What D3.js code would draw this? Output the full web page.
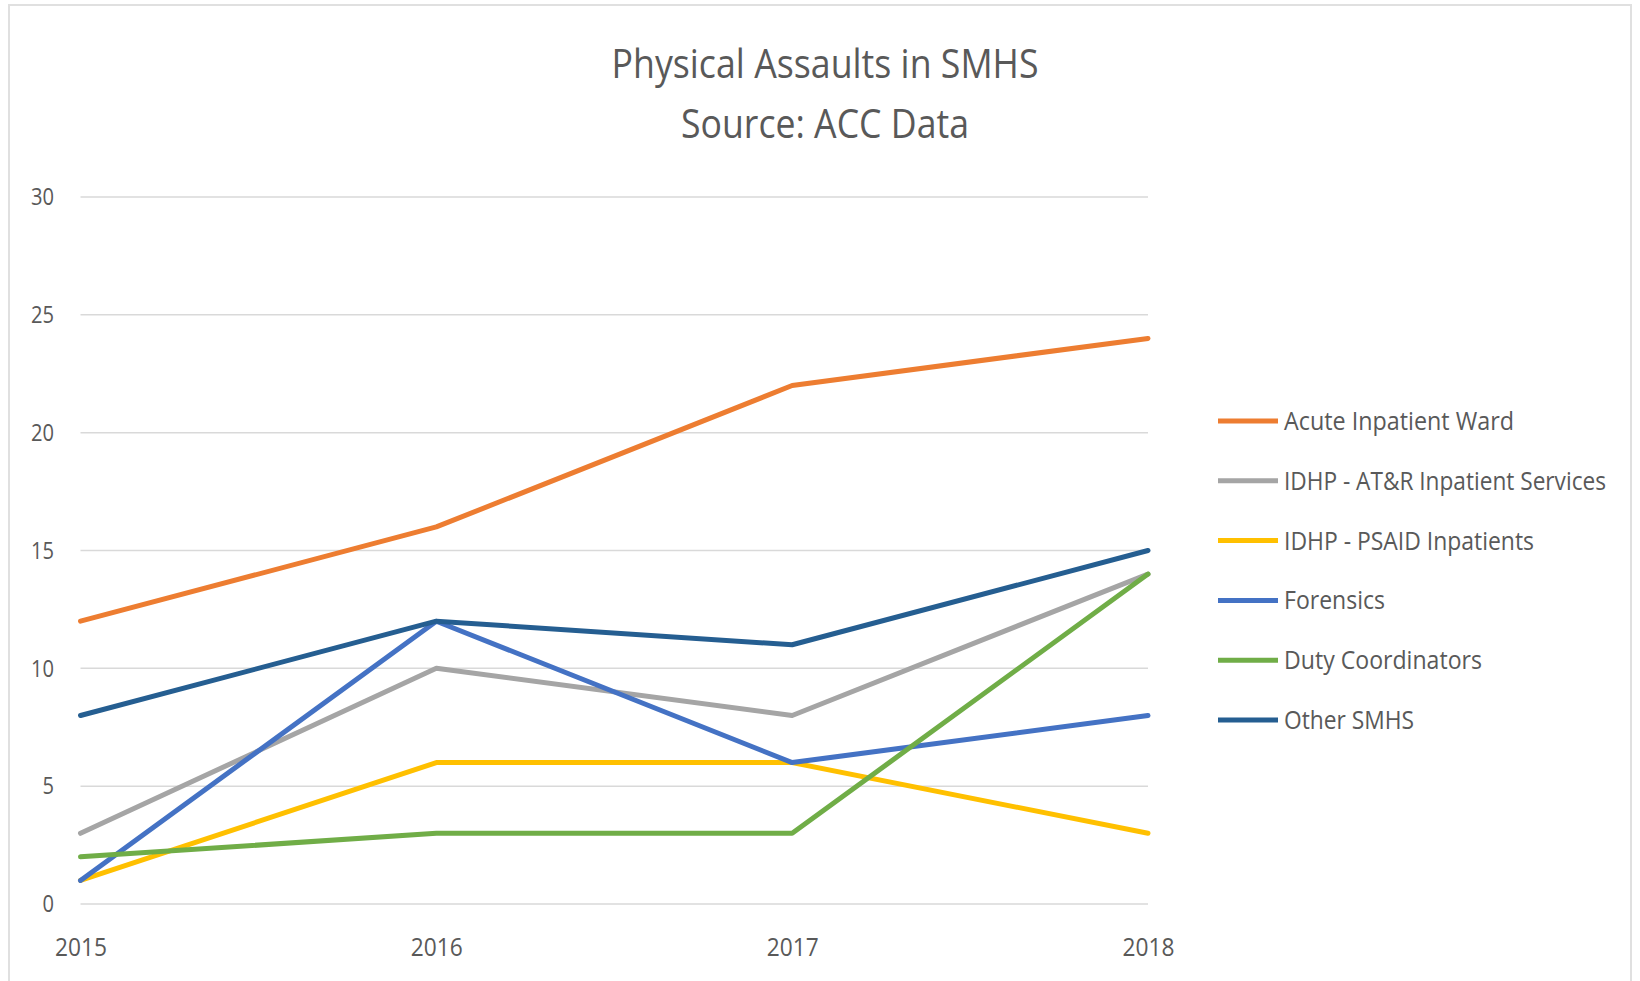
<!DOCTYPE html>
<html>
<head>
<meta charset="utf-8">
<script src="https://cdn.jsdelivr.net/npm/d3@7"></script>
<style>
  html, body { margin: 0; padding: 0; background: #fff; }
  svg { display: block; }
  text { font-family: "Open Sans", "Noto Sans", sans-serif; fill: #595959; }
</style>
</head>
<body>
<svg id="chart" width="1640" height="981"></svg>
<script>
// Reporting years
const years = ["2015", "2016", "2017", "2018"];

// Series names and colours
const seriesNames = [
  "Acute Inpatient Ward",
  "IDHP - AT&R Inpatient Services",
  "IDHP - PSAID Inpatients",
  "Forensics",
  "Duty Coordinators",
  "Other SMHS"
];
const seriesColors = ["#ED7D31", "#A5A5A5", "#FFC000", "#4472C4", "#70AD47", "#255E91"];

// Physical assault counts per series, one value per year
const acuteInpatientWard = [12, 16, 22, 24];
const idhpATR = [3, 10, 8, 14];
const idhpPSAID = [1, 6, 6, 3];
const forensics = [1, 12, 6, 8];
const dutyCoordinators = [2, 3, 3, 14];
const otherSMHS = [8, 12, 11, 15];

const yTicks = [0, 5, 10, 15, 20, 25, 30];

const seriesValues = [acuteInpatientWard, idhpATR, idhpPSAID, forensics, dutyCoordinators, otherSMHS];
const series = seriesNames.map((name, i) => ({ name, color: seriesColors[i], values: seriesValues[i] }));

const svg = d3.select("#chart");

// Chart area outline
svg.append("rect")
  .attr("x", 9).attr("y", 5)
  .attr("width", 1622).attr("height", 985)
  .attr("fill", "none")
  .attr("stroke", "#e0e0e0")
  .attr("stroke-width", 2);

// Title
const title = svg.append("g");
title.append("text")
  .attr("x", 825).attr("y", 78)
  .attr("text-anchor", "middle")
  .attr("font-size", 41)
  .attr("textLength", 427).attr("lengthAdjust", "spacingAndGlyphs")
  .text("Physical Assaults in SMHS");
title.append("text")
  .attr("x", 825).attr("y", 138)
  .attr("text-anchor", "middle")
  .attr("font-size", 41)
  .attr("textLength", 288).attr("lengthAdjust", "spacingAndGlyphs")
  .text("Source: ACC Data");

// Scales
const x = d3.scalePoint().domain(years).range([80.5, 1148]);
const y = d3.scaleLinear().domain([0, 30]).range([904, 197]);

// Horizontal gridlines
svg.append("g")
  .selectAll("line")
  .data(yTicks)
  .join("line")
  .attr("x1", x(years[0])).attr("x2", x(years[years.length - 1]))
  .attr("y1", d => y(d)).attr("y2", d => y(d))
  .attr("stroke", "#d9d9d9")
  .attr("stroke-width", 1.5);

// Y axis labels
const yAxis = d3.axisLeft(y).tickValues(yTicks).tickSize(0).tickPadding(0);
const gy = svg.append("g").attr("transform", "translate(54,0)").call(yAxis);
gy.select(".domain").remove();
gy.selectAll("text")
  .attr("font-size", 24)
  .attr("fill", "#595959")
  .style("font-family", "'Open Sans', sans-serif")
  .attr("textLength", d => String(d).length * 11.5)
  .attr("lengthAdjust", "spacingAndGlyphs");

// X axis labels
const xAxis = d3.axisBottom(x).tickSize(0).tickPadding(0);
const gx = svg.append("g").attr("transform", "translate(0,938)").call(xAxis);
gx.select(".domain").remove();
gx.selectAll("text")
  .attr("font-size", 25)
  .attr("fill", "#595959")
  .style("font-family", "'Open Sans', sans-serif")
  .attr("textLength", 52)
  .attr("lengthAdjust", "spacingAndGlyphs");

// Series lines
const line = d3.line()
  .x((d, i) => x(years[i]))
  .y(d => y(d));

svg.append("g")
  .selectAll("path")
  .data(series)
  .join("path")
  .attr("d", d => line(d.values))
  .attr("fill", "none")
  .attr("stroke", d => d.color)
  .attr("stroke-width", 5)
  .attr("stroke-linejoin", "round")
  .attr("stroke-linecap", "round");

// Legend
const legendWidths = [230, 322, 250, 101, 198, 130];
const legend = svg.append("g").attr("transform", "translate(1218,421)");
const item = legend.selectAll("g")
  .data(series)
  .join("g")
  .attr("transform", (d, i) => `translate(0,${i * 59.8})`);
item.append("line")
  .attr("x1", 0).attr("x2", 60)
  .attr("y1", 0).attr("y2", 0)
  .attr("stroke", d => d.color)
  .attr("stroke-width", 5);
item.append("text")
  .attr("x", 66).attr("y", 9)
  .attr("font-size", 26)
  .attr("textLength", (d, i) => legendWidths[i])
  .attr("lengthAdjust", "spacingAndGlyphs")
  .text(d => d.name);
</script>
</body>
</html>
